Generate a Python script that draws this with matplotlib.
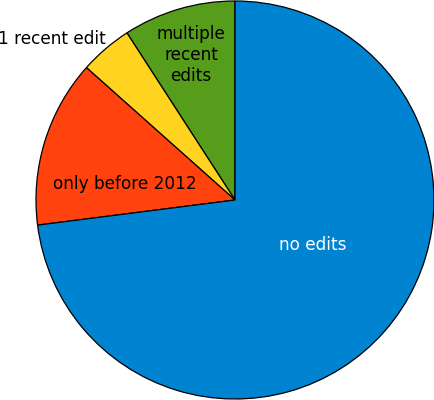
import matplotlib.pyplot as plt

# share of pages (counterclockwise from 12 o'clock)
labels = ['multiple\nrecent\nedits', '1 recent edit', 'only before 2012', 'no edits']
shares = [0.0914, 0.0428, 0.136, 0.730]
colors = ['#579d1c', '#ffd320', '#ff420e', '#0084d1']
text_colors = ['black', 'black', 'black', 'white']
# label positions in pie units (radius = 1)
label_pos = [(-0.221, 0.729), (-0.92, 0.81), (-0.555, 0.078), (0.39, -0.226)]

fig = plt.figure(figsize=(4.35, 4.0), dpi=100)
ax = fig.add_axes([0, 0, 1, 1])

ax.pie(shares, colors=colors, startangle=90, counterclock=True, radius=1.0,
       wedgeprops=dict(edgecolor='black', linewidth=0.9))

for lab, (x, y), c in zip(labels, label_pos, text_colors):
    ax.text(x, y, lab, ha='center', va='center', fontsize=12.2, color=c,
            linespacing=1.2)

ax.set_xlim(-235 / 199, 200 / 199)
ax.set_ylim(-200 / 199, 200 / 199)
ax.set_aspect('auto')
ax.axis('off')

plt.savefig('out.png', dpi=100)
